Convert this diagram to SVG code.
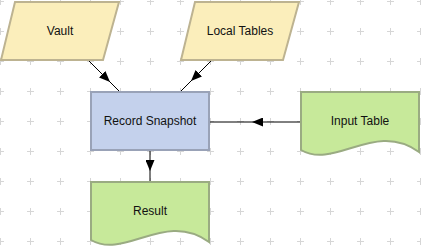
<svg xmlns="http://www.w3.org/2000/svg" width="421" height="248" viewBox="0 0 421 248">
<style>
text{font-family:"Liberation Sans",Arial,sans-serif;font-size:12px;fill:#111;text-anchor:middle}
.data{fill:#FBEEBB;stroke:#BDB391;stroke-width:2}
.proc{fill:#C4D1EC;stroke:#99A2B7;stroke-width:2}
.doc{fill:#C7E99A;stroke:#9AAB82;stroke-width:2}
.edge{fill:none;stroke:#000;stroke-width:1;marker-mid:url(#arr)}
</style>
<defs>
<pattern id="grid" width="30" height="30" patternUnits="userSpaceOnUse" x="-15" y="-14">
<path d="M12,15.5h7M15.5,12v7" stroke="#d6d6d6" stroke-width="1" fill="none"/>
</pattern>
<marker id="arr" viewBox="0 0 11 9" refX="11" refY="4.5" markerWidth="11" markerHeight="9" markerUnits="userSpaceOnUse" orient="auto">
<path d="M0,0L11,4.5L0,9z" fill="#000"/>
</marker>
</defs>
<rect width="421" height="248" fill="#fff"/>
<rect width="421" height="248" fill="url(#grid)"/>
<g id="connectors">
<path class="edge" d="M88,60L110,82L120,92"/>
<path class="edge" d="M212,60L191,81L181,91"/>
<path class="edge" d="M301,122L252,122L210,122"/>
<path class="edge" d="M150,151L150,171L150,182"/>
</g>
<g id="vault">
<path class="data" d="M15,2H119L103,60H1Z"/>
<text x="60" y="35">Vault</text>
</g>
<g id="local-tables">
<path class="data" d="M195,2H299L283,60H181Z"/>
<text x="240" y="35">Local Tables</text>
</g>
<g id="record-snapshot">
<rect class="proc" x="91" y="92" width="118" height="58"/>
<text x="150" y="125">Record Snapshot</text>
</g>
<g id="input-table">
<path class="doc" d="M301,92H419V152C375,120 335,170 301,150Z"/>
<text x="360" y="125">Input Table</text>
</g>
<g id="result">
<path class="doc" d="M91,182H209V242C165,210 125,260 91,240Z"/>
<text x="150" y="215">Result</text>
</g>
</svg>
